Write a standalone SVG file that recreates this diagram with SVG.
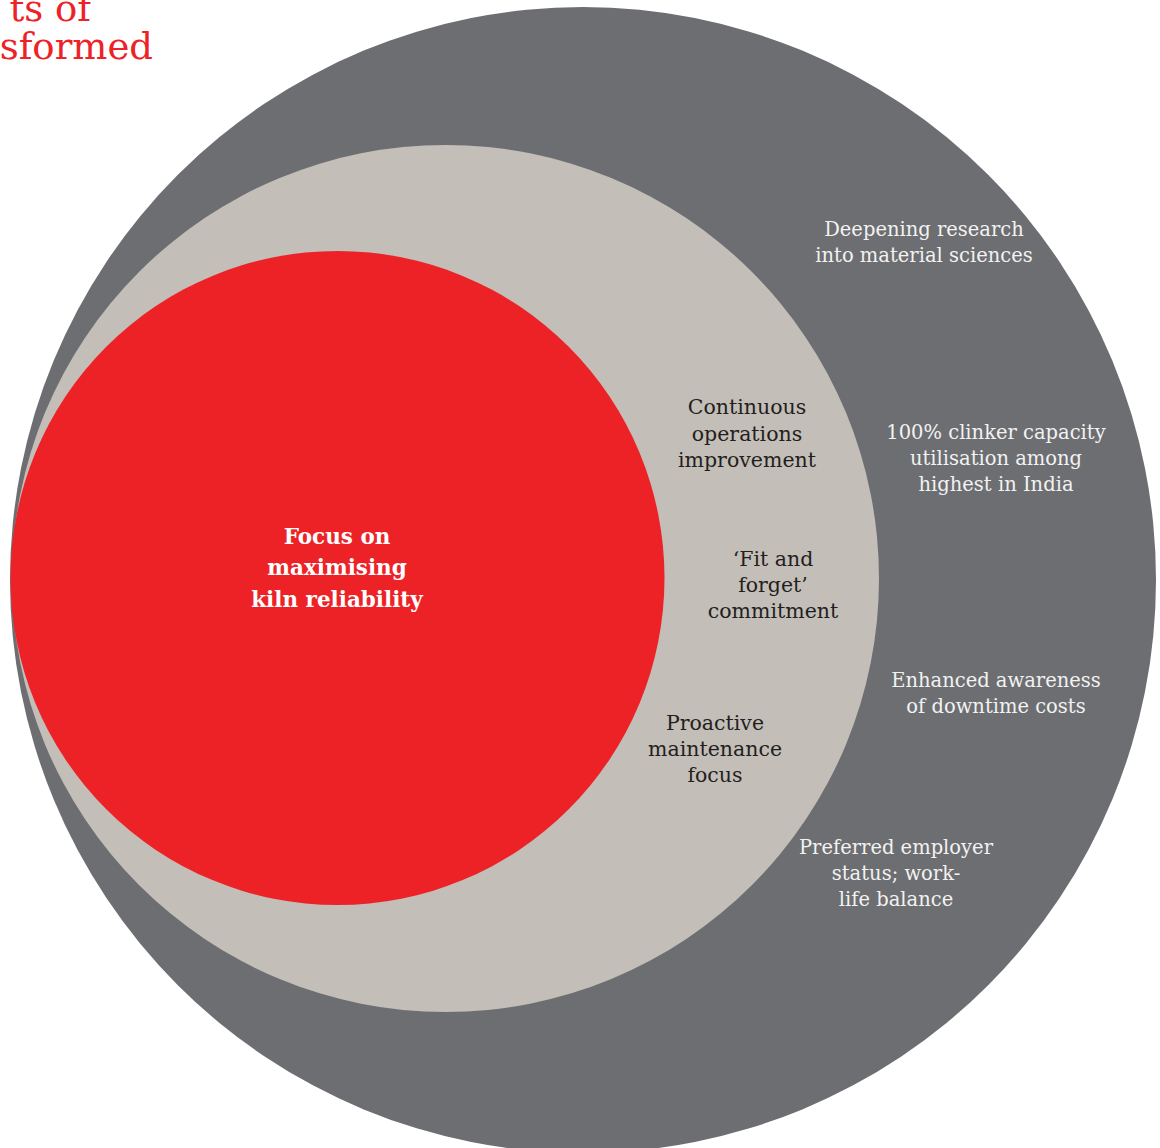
<svg xmlns="http://www.w3.org/2000/svg" width="1160" height="1148" viewBox="0 0 1160 1148">
<style>
.t{font-family:"DejaVu Serif","Liberation Serif",serif;text-anchor:middle}
.dk{fill:#231f20;font-size:20.5px}
.lt{fill:#f2f2f2;font-size:19.5px}
.bd{font-family:"DejaVu Serif","Liberation Serif",serif;font-size:21.5px;font-weight:bold;fill:#ffffff;text-anchor:middle}
.title{font-family:"DejaVu Serif","Liberation Serif",serif;font-size:37px;fill:#ed2227;text-anchor:end}
</style>
<rect width="1160" height="1148" fill="#ffffff"/>
<g id="title">
<text class="title" x="91" y="21">ts of</text>
<text class="title" x="153" y="59">sformed</text>
</g>
<g id="outer">
<circle cx="583" cy="580" r="573" fill="#6d6e71"/>
<text class="t lt" x="924" y="236">Deepening research</text>
<text class="t lt" x="924" y="262">into material sciences</text>
<text class="t lt" x="996" y="439">100% clinker capacity</text>
<text class="t lt" x="996" y="465">utilisation among</text>
<text class="t lt" x="996" y="491">highest in India</text>
<text class="t lt" x="996" y="687">Enhanced awareness</text>
<text class="t lt" x="996" y="713">of downtime costs</text>
<text class="t lt" x="896" y="854">Preferred employer</text>
<text class="t lt" x="896" y="880">status; work-</text>
<text class="t lt" x="896" y="906">life balance</text>
</g>
<g id="middle">
<circle cx="445.5" cy="578.5" r="433.5" fill="#c3beb8"/>
<text class="t dk" x="747" y="414">Continuous</text>
<text class="t dk" x="747" y="441">operations</text>
<text class="t dk" x="747" y="467">improvement</text>
<text class="t dk" x="773" y="566">‘Fit and</text>
<text class="t dk" x="773" y="592">forget’</text>
<text class="t dk" x="773" y="618">commitment</text>
<text class="t dk" x="715" y="730">Proactive</text>
<text class="t dk" x="715" y="756">maintenance</text>
<text class="t dk" x="715" y="782">focus</text>
</g>
<g id="inner">
<circle cx="337.5" cy="578" r="327" fill="#ed2227"/>
<text class="bd" x="337" y="544">Focus on</text>
<text class="bd" x="337" y="575">maximising</text>
<text class="bd" x="337" y="607">kiln reliability</text>
</g>
<g id="connectors"/>
</svg>
